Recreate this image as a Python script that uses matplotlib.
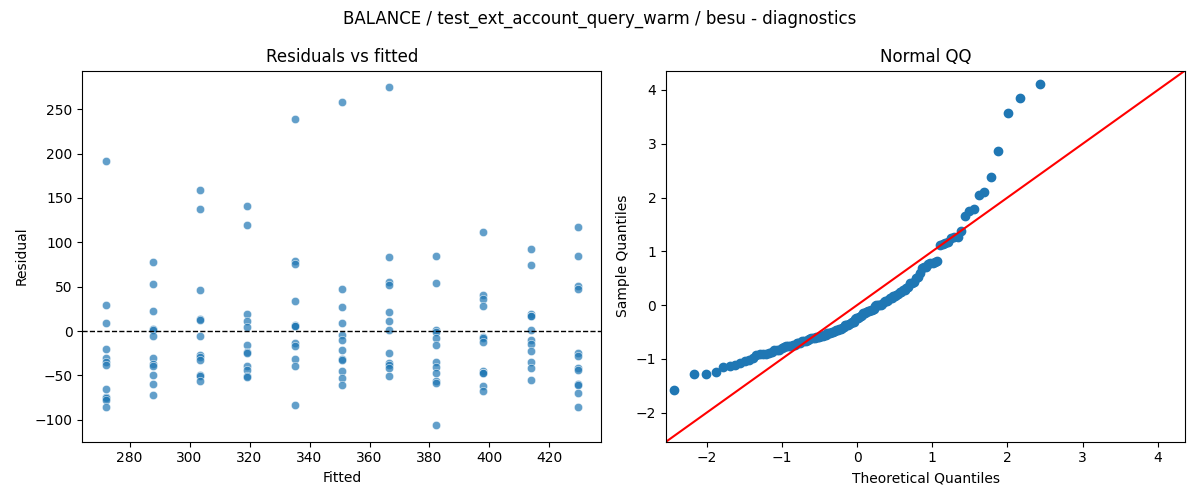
import matplotlib
matplotlib.use("Agg")
import matplotlib.pyplot as plt
import numpy as np
import seaborn as sns
from statistics import NormalDist

title = "BALANCE / test_ext_account_query_warm / besu - diagnostics"

# fitted value of each group and the residuals
fitted_levels = [272.1, 287.8, 303.6, 319.3, 335.0, 350.8, 366.5, 382.2, 398.0, 413.7, 429.4]
residuals = [
    [191.2, 29.2, 9.0, -20.2, -30.7, -34.5, -38.2, -65.2, -74.2, -75.5, -77.2, -85.5],
    [77.6, 52.9, 22.9, 2.2, 0.7, -5.6, -30.0, -37.5, -39.0, -49.5, -59.6, -71.6],
    [159.0, 137.6, 46.1, 13.5, 12.4, -5.6, -26.6, -29.2, -33.0, -49.5, -50.6, -56.2],
    [140.6, 119.2, 19.1, 11.6, 4.5, -15.4, -23.6, -24.7, -39.0, -43.5, -50.6, -51.7],
    [238.5, 78.4, 75.7, 34.1, 6.4, 5.2, 5.8, -13.9, -16.5, -31.1, -39.4, -82.9],
    [258.0, 47.6, 27.4, 9.0, -4.1, -10.1, -21.0, -31.5, -32.6, -44.6, -52.9, -60.7],
    [274.5, 83.2, 55.1, 52.1, 21.4, 11.2, 0.7, -24.7, -36.4, -38.2, -41.6, -50.6],
    [84.7, 54.0, 0.7, -1.1, -8.2, -15.7, -34.5, -40.9, -46.9, -55.9, -58.5, -105.7],
    [111.4, 40.1, 35.6, 28.1, -7.0, -7.5, -12.4, -45.0, -46.9, -47.5, -61.5, -67.5],
    [92.2, 74.6, 19.5, 17.0, 16.5, 0.7, -9.8, -14.6, -22.5, -34.9, -41.2, -55.1],
    [117.4, 84.7, 51.0, 47.6, -24.7, -28.1, -41.2, -44.2, -60.0, -60.7, -69.7, -85.5],
]

fitted = np.concatenate([[f] * len(r) for f, r in zip(fitted_levels, residuals)])
resid = np.concatenate(residuals)

fig, axes = plt.subplots(1, 2, figsize=(12, 5), dpi=100)

# residuals vs fitted
ax = axes[0]
sns.scatterplot(x=fitted, y=resid, alpha=0.7, ax=ax)
ax.axhline(0, color="black", linestyle="--", linewidth=1)
ax.set_title("Residuals vs fitted")
ax.set_xlabel("Fitted")
ax.set_ylabel("Residual")

# normal qq of standardized residuals
ax = axes[1]
n = len(resid)
sample = np.sort((resid - resid.mean()) / resid.std())
theo = np.array([NormalDist().inv_cdf(i / (n + 1)) for i in range(1, n + 1)])
ax.plot(theo, sample, marker="o", linestyle="none", color="C0", markersize=6)
lims = [-2.54, 4.36]
ax.plot(lims, lims, "r-")
ax.set_xlim(lims)
ax.set_ylim(lims)
ax.set_title("Normal QQ")
ax.set_xlabel("Theoretical Quantiles")
ax.set_ylabel("Sample Quantiles")

fig.suptitle(title)
fig.tight_layout()
fig.savefig("out.png")
